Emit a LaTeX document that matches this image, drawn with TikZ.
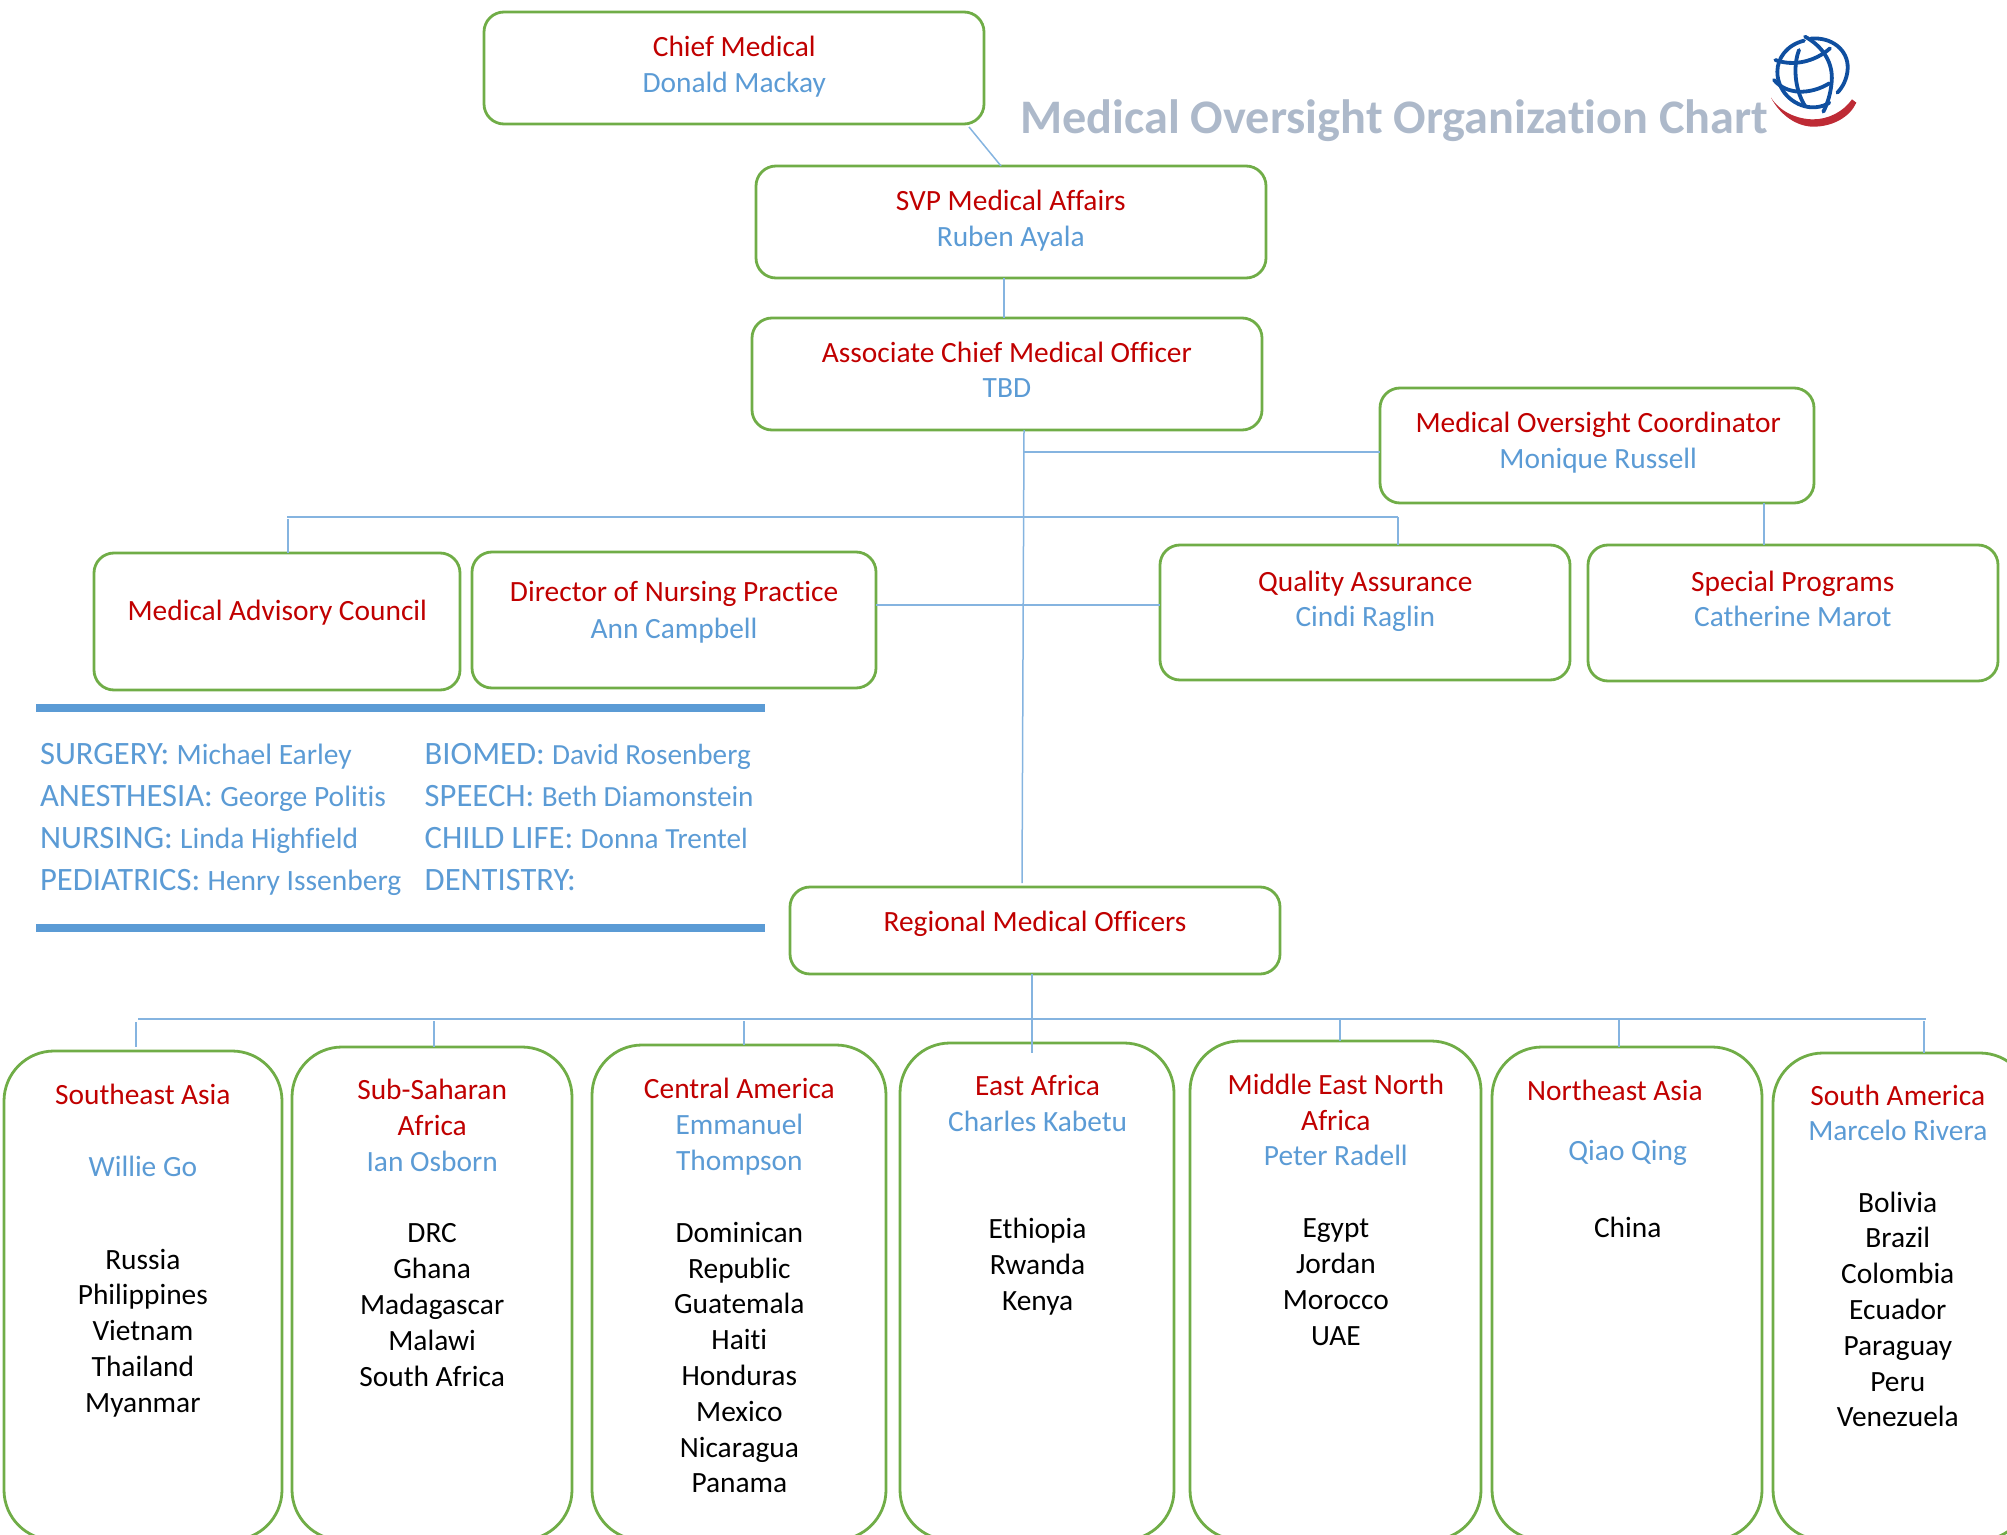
\documentclass[tikz,border=0pt]{standalone}
\usepackage{fontspec}
\setmainfont[Ligatures=NoCommon]{Carlito}
\usetikzlibrary{fit,calc}
\definecolor{rd}{HTML}{C00000}
\definecolor{bl}{HTML}{5B9BD5}
\definecolor{cn}{HTML}{85B4E0}
\definecolor{gr}{HTML}{70AD47}
\definecolor{ttl}{HTML}{ADB9CA}
\definecolor{lg}{HTML}{0F4FA0}
\definecolor{lr}{HTML}{BE2B35}
\tikzset{
  orgbox/.style={draw=gr,line width=1.4pt,rounded corners=10pt,inner sep=0pt,outer sep=0pt},
  regbox/.style={draw=gr,line width=1.4pt,rounded corners=25pt,inner sep=0pt,outer sep=0pt},
  conn/.style={draw=cn,line width=.75pt},
  bar/.style={draw=bl,line width=4pt},
  lbl/.style={anchor=base,xshift=.4pt,yshift=-5pt,inner sep=0pt,align=center,font=\fontsize{14.7}{17.9}\selectfont},
  redt/.style={lbl,text=rd},
  bluet/.style={lbl,text=bl},
  blackt/.style={lbl,text=black},
  listt/.style={anchor=base west,inner sep=0pt,align=left,text=bl,font=\fontsize{16.3}{21}\selectfont},
  logoline/.style={draw=lg,line width=1.9pt,line cap=round}
}
\newcommand{\nm}[1]{{\fontsize{14.75}{21}\selectfont #1}}
\newcommand{\nmb}[1]{{\fontsize{14.6}{21}\selectfont #1}}
\begin{document}
\begin{tikzpicture}[x=.5pt,y=-.5pt]
\clip (0,0) rectangle (2007,1535);
% boxes
\node[orgbox,fit={(484,12)(984,124)}] (chief) {};
\node[orgbox,fit={(756,166)(1266,278)}] (svp) {};
\node[orgbox,fit={(752,318)(1262,430)}] (acmo) {};
\node[orgbox,fit={(1380,388)(1814,503)}] (moc) {};
\node[orgbox,fit={(94,553)(460,690)}] (mac) {};
\node[orgbox,fit={(472,552)(876,688)}] (dnp) {};
\node[orgbox,fit={(1160,545)(1570,680)}] (qa) {};
\node[orgbox,fit={(1588,545)(1998,681)}] (sp) {};
\node[orgbox,fit={(790,887)(1280,974)}] (rmo) {};
\node[regbox,fit={(4,1051)(282,1540)}] (sea) {};
\node[regbox,fit={(292,1047)(572,1540)}] (ssa) {};
\node[regbox,fit={(592,1045)(886,1540)}] (cam) {};
\node[regbox,fit={(900,1043)(1174,1540)}] (eaf) {};
\node[regbox,fit={(1190,1041)(1481,1540)}] (mena) {};
\node[regbox,fit={(1492,1047)(1762,1540)}] (nea) {};
\node[regbox,fit={(1773,1053)(2030,1540)}] (sam) {};
% free junctions
\coordinate (busl) at (287,517);
\coordinate (busr) at (1398,517);
\coordinate (rbusl) at (138,1019);
\coordinate (rbusr) at (1926,1019);
\coordinate (trunk) at (1024,430);
\coordinate (mjoin) at (1024,452);
\coordinate (bar1a) at (36,708);
\coordinate (bar1b) at (765,708);
\coordinate (bar2a) at (36,928);
\coordinate (bar2b) at (765,928);
% connectors
\draw[conn] (969,127) -- (1001,166);
\draw[conn] ($(svp.south)+(-7,0)$) -- ($(acmo.north)+(-3,0)$);
\draw[conn] (trunk) -- ($(rmo.north)+(-13,-4)$);
\draw[conn] (mjoin) -- (mjoin -| moc.west);
\draw[conn] (busl) -- (busr);
\draw[conn] (288,519) -- (288,553);
\draw[conn] (busr) -- (busr |- qa.north);
\draw[conn] (1764,503) -- (1764,545);
\draw[conn] (dnp.east |- 0,605) -- (qa.west |- 0,605);
\draw[conn] ($(rmo.south)+(-3,0)$) -- (1032,1053);
\draw[conn] (rbusl) -- (rbusr);
\draw[conn] (136,1022) -- (136,1047);
\draw[conn] (434,1021) -- (434,1047);
\draw[conn] (744,1021) -- (744,1045);
\draw[conn] (1340,1019) -- (1340,1041);
\draw[conn] (1619,1019) -- (1619,1047);
\draw[conn] (1924,1021) -- (1924,1053);
\draw[bar] (bar1a) -- (bar1b);
\draw[bar] (bar2a) -- (bar2b);
% title
\node[anchor=base west,inner sep=0pt,text=ttl,font=\fontsize{24.1}{30}\bfseries\selectfont] (title) at (1020,134) {Medical Oversight Organization Chart};
% logo
\begin{scope}[shift={(1700,0)},x=.16667pt,y=-.16667pt]
\draw[logoline] (312,122) .. controls (260,135) and (232,175) .. (232,215) .. controls (232,280) and (290,325) .. (345,322) .. controls (365,320) and (378,315) .. (388,308);
\draw[logoline] (332,116) .. controls (395,110) and (445,150) .. (443,205) .. controls (442,235) and (428,262) .. (412,278);
\draw[logoline] (315,110) .. controls (370,140) and (400,190) .. (395,245) .. controls (392,280) and (383,310) .. (370,335);
\draw[logoline] (297,150) .. controls (278,200) and (285,270) .. (315,318);
\draw[logoline] (226,180) .. controls (280,200) and (345,185) .. (390,145);
\draw[logoline] (222,240) .. controls (260,285) and (330,285) .. (388,250);
\fill[lr] (213,293) .. controls (240,345) and (290,380) .. (340,380) .. controls (400,380) and (450,350) .. (469,308) -- (456,298) .. controls (430,335) and (385,358) .. (340,358) .. controls (290,358) and (240,335) .. (213,293) -- cycle;
\end{scope}
% labels, in coordinates of the shrunk view; y is that of the last line
\begin{scope}[x=.64pt,y=-.64pt]
\node[redt] (t1) at (573,36) {Chief Medical};
\node[bluet] (t2) at (573,64.5) {Donald Mackay};
\node[redt] (t3) at (789,156.5) {SVP Medical Affairs};
\node[bluet] (t4) at (789,184.5) {Ruben Ayala};
\node[redt] (t5) at (786,275.5) {Associate Chief Medical Officer};
\node[bluet] (t6) at (786,303) {TBD};
\node[redt] (t7) at (1248,330) {Medical Oversight Coordinator};
\node[bluet] (t8) at (1248,358) {Monique Russell};
\node[redt] (t9) at (216,477) {Medical Advisory Council};
\node[redt] (t10) at (526,462) {Director of Nursing Practice};
\node[bluet] (t11) at (526,491) {Ann Campbell};
\node[redt] (t12) at (1066,454) {Quality Assurance};
\node[bluet] (t13) at (1066,482) {Cindi Raglin};
\node[redt] (t14) at (1400,454) {Special Programs};
\node[bluet] (t15) at (1400,482) {Catherine Marot};
\node[redt] (t16) at (808,720) {Regional Medical Officers};
% lists
\node[listt,yshift=-5pt] (l1) at (31,688) {SURGERY: \nm{Michael Earley}\\ANESTHESIA: \nm{George Politis}\\NURSING: \nm{Linda Highfield}\\PEDIATRICS: \nm{Henry Issenberg}};
\node[listt,yshift=-5pt] (l2) at (331.5,688) {BIOMED: \nmb{David Rosenberg}\\SPEECH: \nmb{Beth Diamonstein}\\CHILD LIFE: \nmb{Donna Trentel}\\DENTISTRY:};
% regions
\node[redt] (r1) at (111,855) {Southeast Asia};
\node[bluet] (r1b) at (111,911) {Willie Go};
\node[blackt] (r1c) at (111,1095.5) {Russia\\Philippines\\Vietnam\\Thailand\\Myanmar};
\node[redt] (r2) at (337,879.5) {Sub-Saharan\\Africa};
\node[bluet] (r2b) at (337,907.5) {Ian Osborn};
\node[blackt] (r2c) at (337,1075) {DRC\\Ghana\\Madagascar\\Malawi\\South Africa};
\node[redt] (r3) at (577,850.5) {Central America};
\node[bluet] (r3b) at (577,906.5) {Emmanuel\\Thompson};
\node[blackt] (r3c) at (577,1158.5) {Dominican\\Republic\\Guatemala\\Haiti\\Honduras\\Mexico\\Nicaragua\\Panama};
\node[redt] (r4) at (810,848) {East Africa};
\node[bluet] (r4b) at (810,876) {Charles Kabetu};
\node[blackt] (r4c) at (810,1016) {Ethiopia\\Rwanda\\Kenya};
\node[redt] (r5) at (1043,875) {Middle East North\\Africa};
\node[bluet] (r5b) at (1043,903) {Peter Radell};
\node[blackt] (r5c) at (1043,1043) {Egypt\\Jordan\\Morocco\\UAE};
\node[redt] (r6) at (1261,852) {Northeast Asia};
\node[bluet] (r6b) at (1271,899) {Qiao Qing};
\node[blackt] (r6c) at (1271,959) {China};
\node[redt] (r7) at (1482,856) {South America};
\node[bluet] (r7b) at (1482,883) {Marcelo Rivera};
\node[blackt] (r7c) at (1482,1107) {Bolivia\\Brazil\\Colombia\\Ecuador\\Paraguay\\Peru\\Venezuela};
\end{scope}
\end{tikzpicture}
\end{document}
